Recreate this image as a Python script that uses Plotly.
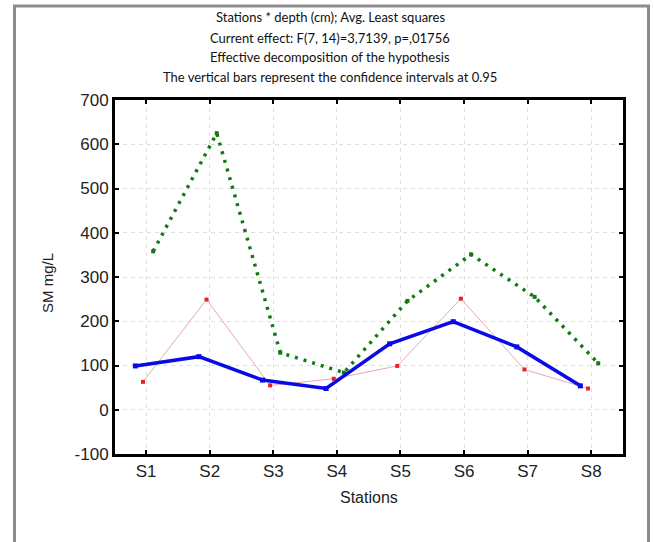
import plotly.graph_objects as go

stations = ["S1", "S2", "S3", "S4", "S5", "S6", "S7", "S8"]
blue_vals = [99, 120, 67, 48, 149, 199, 142, 54]
red_vals = [63, 249, 55, 70, 99, 251, 91, 48]
green_vals = [358, 625, 129, 84, 246, 351, 255, 105]
y_ticks = [-100, 0, 100, 200, 300, 400, 500, 600, 700]
y_tick_labels = ["-100", "0", "100", "200", "300", "400", "500", "600", "700"]
title_lines = [
    "Stations * depth (cm); Avg. Least squares",
    "Current effect: F(7, 14)=3,7139, p=,01756",
    "Effective decomposition of the hypothesis",
    "The vertical bars represent the confidence intervals at 0.95",
]

pos = list(range(1, len(stations) + 1))
off_blue, off_red, off_green = -0.17, -0.05, 0.11

fig = go.Figure()
fig.add_trace(go.Scatter(
    x=[p + off_red for p in pos], y=red_vals, mode="lines+markers",
    line=dict(color="rgb(232,170,170)", width=1),
    marker=dict(symbol="square", size=4, color="#e8202a"),
    showlegend=False))
fig.add_trace(go.Scatter(
    x=[p + off_green for p in pos], y=green_vals, mode="lines+markers",
    line=dict(color="#137a13", width=3.5, dash="3px,6px"),
    marker=dict(symbol="square", size=4, color="#137a13"),
    showlegend=False))
fig.add_trace(go.Scatter(
    x=[p + off_blue for p in pos], y=blue_vals, mode="lines+markers",
    line=dict(color="#0a0ae6", width=3.5),
    marker=dict(symbol="square", size=5, color="#0a0ae6"),
    showlegend=False))

axis_common = dict(
    showline=True, linecolor="black", linewidth=3, mirror="ticks",
    ticks="inside", ticklen=4, tickwidth=2, tickcolor="black",
    showgrid=True, gridcolor="#dedede", gridwidth=1, griddash="4px,4px",
    zeroline=False,
    tickfont=dict(family="Liberation Sans, Arial", size=17, color="#222"),
)

fig.update_xaxes(range=[0.51, 8.5], tickmode="array", tickvals=pos,
                 ticktext=stations, **axis_common)
fig.update_yaxes(range=[-100, 700], tickmode="array", tickvals=y_ticks,
                 ticktext=y_tick_labels, **axis_common)

annotations = []
title_y_px = [17, 38, 57, 77]
for line, ypx in zip(title_lines, title_y_px):
    annotations.append(dict(
        text=line, xref="paper", yref="paper",
        x=(330 - 115) / 508, y=(454 - ypx) / 354,
        xanchor="center", yanchor="middle", showarrow=False,
        font=dict(family="Lato, Liberation Sans", size=13, color="#111")))
annotations.append(dict(
    text="Stations", xref="paper", yref="paper", x=0.5, y=(454 - 497) / 354,
    xanchor="center", yanchor="middle", showarrow=False,
    font=dict(family="Liberation Sans, Arial", size=16, color="#222")))
annotations.append(dict(
    text="SM mg/L", xref="paper", yref="paper", x=(47 - 115) / 508,
    y=(454 - 283) / 354, xanchor="center", yanchor="middle", textangle=-90,
    showarrow=False,
    font=dict(family="Liberation Sans, Arial", size=15, color="#222")))

fig.update_layout(
    width=654, height=542,
    margin=dict(l=115, r=31, t=100, b=88),
    paper_bgcolor="white", plot_bgcolor="white",
    annotations=annotations,
    shapes=[dict(type="rect", xref="paper", yref="paper",
                 x0=(14.5 - 115) / 508, x1=(648.5 - 115) / 508,
                 y0=(454 - 560) / 354, y1=(454 - 6) / 354,
                 line=dict(color="#8c8c8c", width=3), layer="below")],
)

fig.write_html("out.html")
